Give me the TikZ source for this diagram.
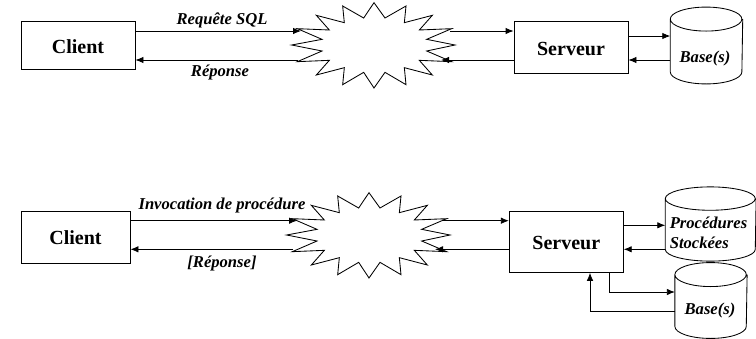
\documentclass[tikz,border=0pt]{standalone}
\usepackage{fontspec}
\setmainfont{Liberation Serif}
\usetikzlibrary{arrows.meta}
\tikzset{
  x=1pt,y=-1pt,
  every path/.append style={line width=0.85pt},
  boxnode/.style={draw,inner sep=0pt,text height=15.5pt,text depth=0pt,font=\fontsize{20}{24}\selectfont\bfseries},
  labelnode/.style={inner sep=0pt,font=\fontsize{16.6}{20}\selectfont\bfseries\itshape},
  arrowline/.style={-{Latex[length=8pt,width=6.5pt]}},
  drumbox/.style={inner sep=0pt,draw=none},
  burst/.pic={
    \draw[scale=1/3,line join=miter] (0,-127)--(33,-81)--(96,-117)--(91,-67)--(175,-89)--(136,-45)--(233,-49)--(158,-17)--(243,0)--(158,18)--(233,50)--(136,46)--(175,90)--(91,68)--(96,119)--(33,82)--(0,129)--(-31,82)--(-94,119)--(-89,68)--(-173,90)--(-134,46)--(-230,50)--(-156,18)--(-247,0)--(-156,-17)--(-230,-49)--(-134,-45)--(-173,-89)--(-89,-67)--(-94,-117)--(-31,-81)--cycle;
  }
}
\newcommand{\drum}[6]{%
  \node[drumbox,minimum width=#4pt,minimum height=#5pt] (#1) at (#2,#3) {};
  \draw (#1.north west) arc[start angle=180,end angle=540,x radius=#4pt/2,y radius=#6pt]
     -- (#1.south west) arc[start angle=180,end angle=360,x radius=#4pt/2,y radius=#6pt]
     -- (#1.north east);
}
\begin{document}
\begin{tikzpicture}
\useasboundingbox (0,0) rectangle (756,338);
% --- top diagram
\node[boxnode,minimum width=114pt,minimum height=47.5pt] (c1) at (78,45.3) {Client};
\node[boxnode,minimum width=114pt,minimum height=51.5pt] (s1) at (571,47.3) {Serveur};
\pic at (374,45) {burst};
\drum{d1}{706.5}{45.5}{71.6}{52}{12}
\node[labelnode] (l1) at (222,20) {Requête SQL};
\node[labelnode] (l2) at (220,72) {Réponse};
\node[labelnode] (t1) at (705,59) {Base(s)};
\coordinate (a1) at (301,31);
\coordinate (a2) at (298,60);
\coordinate (a3) at (450,31);
\coordinate (a4) at (441,60);
\draw[arrowline] (c1.east |- a1) -- (a1);
\draw[arrowline] (a2) -- (c1.east |- a2);
\draw[arrowline] (a3) -- (s1.west |- a3);
\draw[arrowline] (s1.west |- a4) -- (a4);
\coordinate (a5) at (0,36);
\coordinate (a6) at (0,60);
\draw[arrowline] (s1.east |- a5) -- (d1.west |- a5);
\draw[arrowline] (d1.west |- a6) -- (s1.east |- a6);
% --- bottom diagram
\node[boxnode,minimum width=109pt,minimum height=52.3pt] (c2) at (75.5,237.2) {Client};
\node[boxnode,minimum width=114pt,minimum height=61.3pt] (s2) at (566.3,241.7) {Serveur};
\pic at (369,235) {burst};
\drum{d2}{710.7}{224}{90}{50}{11.7}
\drum{d3}{711}{300.5}{71.4}{51}{12}
\node[labelnode] (l3) at (222,205.5) {Invocation de procédure};
\node[labelnode] (l4) at (222,263) {[Réponse]};
\node[labelnode,align=left] (t2) at (708.5,232.5) {Procédures\\Stockées};
\node[labelnode] (t3) at (710,310.5) {Base(s)};
\coordinate (b1) at (297,220.7);
\coordinate (b2) at (293,249.3);
\coordinate (b3) at (443,220.7);
\coordinate (b4) at (435,249.3);
\draw[arrowline] (c2.east |- b1) -- (b1);
\draw[arrowline] (b2) -- (c2.east |- b2);
\draw[arrowline] (b3) -- (s2.west |- b3);
\draw[arrowline] (s2.west |- b4) -- (b4);
\coordinate (b5) at (0,225.3);
\draw[arrowline] (s2.east |- b5) -- (d2.west |- b5);
\draw[arrowline] (d2.west |- b4) -- (s2.east |- b4);
\coordinate (b6) at (609,292);
\coordinate (b7) at (590,311);
\draw[arrowline] (s2.south -| b6) -- (b6) -- (d3.west |- b6);
\draw[arrowline] (d3.west |- b7) -- (b7) -- (s2.south -| b7);
\end{tikzpicture}
\end{document}
